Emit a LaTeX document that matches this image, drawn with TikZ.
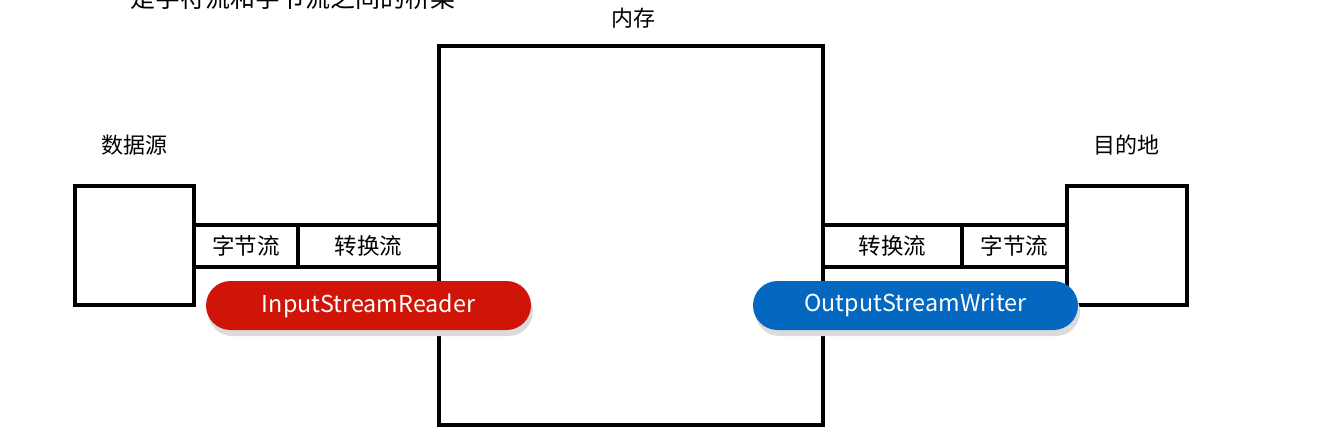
\documentclass[tikz,border=0pt]{standalone}
\usepackage{fontspec}
\setmainfont{Noto Sans CJK SC}
\usetikzlibrary{positioning}
\definecolor{redpill}{HTML}{D01408}
\definecolor{bluepill}{HTML}{0468C0}
\tikzset{
  box/.style={draw=black, line width=3.3pt, fill=white, inner sep=0pt, minimum width=#1},
  streambox/.style={draw=black, line width=3.3pt, fill=white, inner sep=0pt, minimum height=42pt, font=\fontsize{22.5pt}{26pt}\selectfont},
  pill/.style={rounded corners=24.5pt, fill=#1, inner sep=0pt, minimum width=325pt, minimum height=49pt, text=white, font=\fontsize{23.3pt}{27pt}\selectfont},
  label/.style={inner sep=0pt, font=\fontsize{22pt}{25pt}\selectfont},
}
\begin{document}
\begin{tikzpicture}[x=1pt,y=-1pt]
\useasboundingbox (0,0) rectangle (1336,441);
% title cut off at top
\node[label, font=\fontsize{25pt}{28pt}\selectfont, anchor=west] (title) at (130,-2) {是字符流和字节流之间的桥梁};
% memory
\node[label] (memlbl) at (633,18) {内存};
\draw[line width=3.3pt] (439,46) rectangle (823,425);
% source
\node[label] (srclbl) at (134,145) {数据源};
\draw[line width=3.3pt] (75,186) rectangle (194,305);
% destination
\node[label] (dstlbl) at (1126,145) {目的地};
\draw[line width=3.3pt] (1067,186) rectangle (1187,305);
% left streams
\node[streambox, minimum width=104pt] (lbyte) at (246,246) {字节流};
\node[streambox, minimum width=141pt] (lconv) at (368.5,246) {转换流};
% right streams
\node[streambox, minimum width=139pt] (rconv) at (892.5,246) {转换流};
\node[streambox, minimum width=105pt] (rbyte) at (1014.5,246) {字节流};
% pills with shadows
\fill[black!14, rounded corners=24.5pt] (208,287) rectangle (533,336);
\fill[black!14, rounded corners=24.5pt] (755,287) rectangle (1080,336);
\node[pill=redpill] (isr) at (368.5,305.5) {InputStreamReader};
\node[pill=bluepill] (osw) at (915.5,305.5) {OutputStreamWriter};
\end{tikzpicture}
\end{document}
